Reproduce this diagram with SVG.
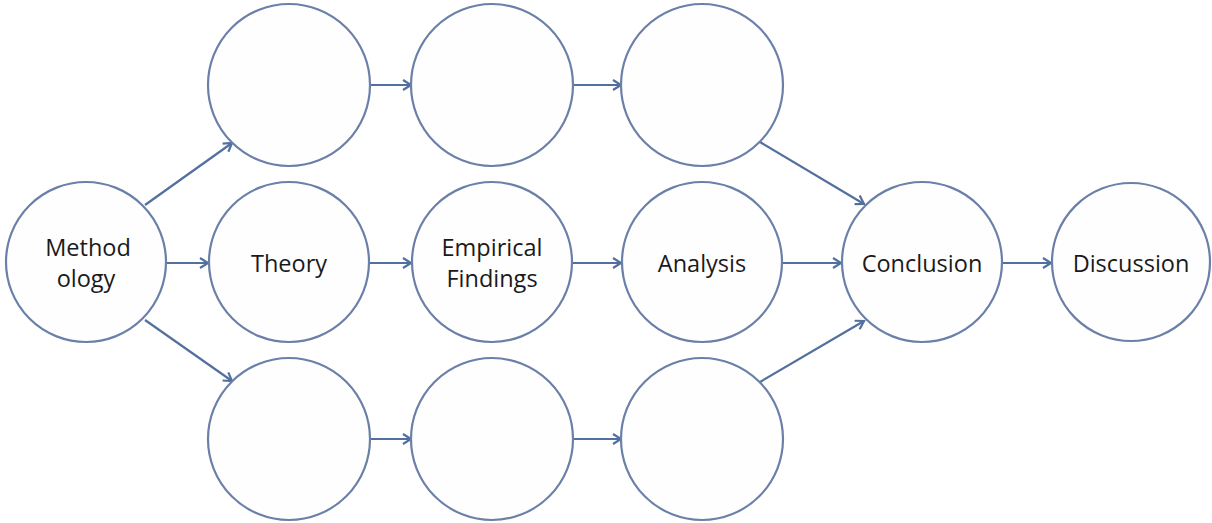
<svg xmlns="http://www.w3.org/2000/svg" width="1212" height="523" viewBox="0 0 1212 523">
<style>
.node circle{fill:#fefeff;stroke:#6b80a8;stroke-width:2.2}
.node text{font-family:"Open Sans","Liberation Sans",sans-serif;font-size:23.5px;fill:#1a1a1a;text-anchor:middle}
.conn line{stroke:#52709f;stroke-width:2.2;fill:none;marker-end:url(#ah)}
</style>
<defs>
<marker id="ah" markerUnits="userSpaceOnUse" markerWidth="14" markerHeight="14" refX="11" refY="6" orient="auto">
<path d="M3,1 L11,6 L3,11" fill="none" stroke="#52709f" stroke-width="2.2" stroke-linejoin="miter"/>
</marker>
</defs>
<rect width="1212" height="523" fill="#ffffff"/>
<g id="connectors" class="conn">
<line x1="166" y1="263" x2="208" y2="263"/>
<line x1="145" y1="205" x2="232" y2="143"/>
<line x1="145" y1="320" x2="232" y2="381"/>
<line x1="370" y1="85" x2="411" y2="85"/>
<line x1="573" y1="85" x2="621" y2="85"/>
<line x1="370" y1="263" x2="411" y2="263"/>
<line x1="573" y1="263" x2="621" y2="263"/>
<line x1="783" y1="263" x2="841" y2="263"/>
<line x1="370" y1="439" x2="411" y2="439"/>
<line x1="573" y1="439" x2="621" y2="439"/>
<line x1="760" y1="142" x2="864" y2="204"/>
<line x1="760" y1="382" x2="864" y2="321"/>
<line x1="1002" y1="263" x2="1051" y2="263"/>
</g>
<g id="methodology" class="node"><circle cx="86" cy="262" r="80"/><text x="88" y="256">Method</text><text x="86" y="287">ology</text></g>
<g id="top1" class="node"><circle cx="289" cy="85" r="81"/></g>
<g id="top2" class="node"><circle cx="492" cy="85" r="81"/></g>
<g id="top3" class="node"><circle cx="702" cy="85" r="81"/></g>
<g id="theory" class="node"><circle cx="289" cy="262" r="80"/><text x="289" y="272">Theory</text></g>
<g id="empirical" class="node"><circle cx="492" cy="262" r="80"/><text x="492" y="256">Empirical</text><text x="492" y="287">Findings</text></g>
<g id="analysis" class="node"><circle cx="702" cy="262" r="80"/><text x="702" y="272">Analysis</text></g>
<g id="conclusion" class="node"><circle cx="922" cy="262" r="80"/><text x="922" y="272">Conclusion</text></g>
<g id="discussion" class="node"><circle cx="1131" cy="262" r="79"/><text x="1131" y="272">Discussion</text></g>
<g id="bot1" class="node"><circle cx="289" cy="439" r="81"/></g>
<g id="bot2" class="node"><circle cx="492" cy="439" r="81"/></g>
<g id="bot3" class="node"><circle cx="702" cy="439" r="81"/></g>
</svg>
